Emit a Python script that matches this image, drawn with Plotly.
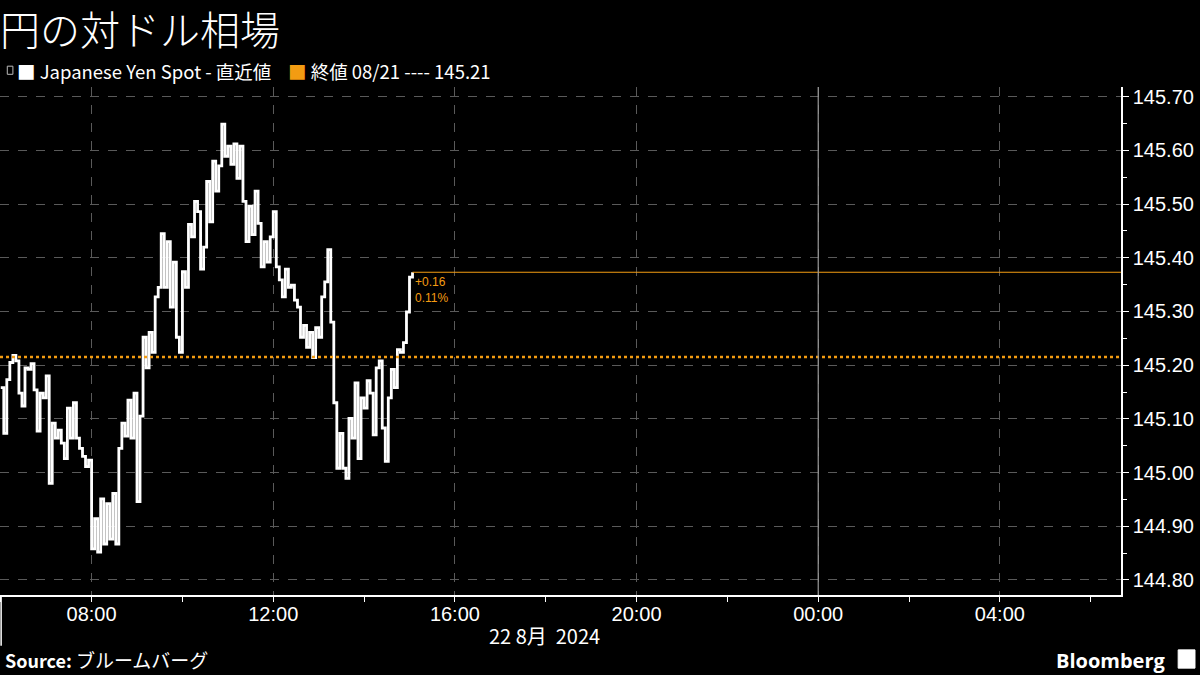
import pandas as pd
import plotly.graph_objects as go

# USD/JPY spot, 4-minute samples from 06:00 on 22 Aug 2024
start_time = "2024-08-22 06:00"
step_minutes = 4
prices = [
    145.158, 145.073, 145.173, 145.205, 145.218, 145.208, 145.148, 145.124, 145.195, 145.192,
    145.203, 145.154, 145.077, 145.148, 145.139, 145.180, 144.980, 145.092, 145.064, 145.079,
    145.055, 145.026, 145.120, 145.064, 145.130, 145.064, 145.045, 145.030, 145.011, 145.023,
    144.858, 144.914, 144.852, 144.951, 144.867, 144.942, 144.876, 144.961, 144.867, 145.045,
    145.092, 145.068, 145.135, 145.064, 145.148, 144.946, 145.105, 145.252, 145.195, 145.261,
    145.224, 145.327, 145.345, 145.445, 145.345, 145.430, 145.308, 145.392, 145.252, 145.224,
    145.374, 145.345, 145.462, 145.439, 145.505, 145.486, 145.379, 145.420, 145.542, 145.467,
    145.580, 145.524, 145.571, 145.649, 145.589, 145.608, 145.574, 145.612, 145.548, 145.608,
    145.505, 145.430, 145.496, 145.443, 145.524, 145.464, 145.383, 145.430, 145.392, 145.439,
    145.486, 145.383, 145.359, 145.327, 145.379, 145.345, 145.349, 145.321, 145.308, 145.252,
    145.274, 145.233, 145.261, 145.214, 145.270, 145.252, 145.327, 145.355, 145.415, 145.280,
    145.130, 145.008, 145.073, 145.008, 144.989, 145.101, 145.064, 145.167, 145.026, 145.139,
    145.120, 145.171, 145.148, 145.070, 145.195, 145.208, 145.083, 145.021, 145.139, 145.192,
    145.158, 145.229, 145.224, 145.242, 145.299, 145.364, 145.373,
]
prev_close = 145.215
prev_close_label = "145.21"

x_range = ["2024-08-22 05:59", "2024-08-23 06:40"]
tick_vals = ["2024-08-22 08:00", "2024-08-22 12:00", "2024-08-22 16:00",
             "2024-08-22 20:00", "2024-08-23 00:00", "2024-08-23 04:00"]
tick_text = ["08:00", "12:00", "16:00", "20:00", "00:00", "04:00"]
y_range = [144.772, 145.718]

ORANGE = "#f39c12"
GRID = "#5a5a5a"
FONT = "Liberation Sans"
JP_FONT = "Noto Sans CJK JP"

times = pd.date_range(start_time, periods=len(prices), freq=f"{step_minutes}min")
last_time = times[-1]
last_price = prices[-1]
change = last_price - prev_close
change_pct = change / prev_close * 100

fig = go.Figure()

fig.add_trace(
    go.Scatter(
        x=times,
        y=prices,
        mode="lines",
        line=dict(color="white", width=2.8, shape="hv"),
        showlegend=False,
        hoverinfo="skip",
    )
)

# previous close (dotted) and last price (solid)
fig.add_shape(type="line", xref="x", yref="y", x0=x_range[0], x1=x_range[1],
              y0=prev_close, y1=prev_close, line=dict(color=ORANGE, width=2.5, dash="dot"))
fig.add_shape(type="line", xref="x", yref="y", x0=last_time, x1=x_range[1],
              y0=last_price, y1=last_price, line=dict(color=ORANGE, width=1.2))

# day boundary
fig.add_shape(type="line", xref="x", yref="paper", x0="2024-08-23 00:00", x1="2024-08-23 00:00",
              y0=0, y1=1, line=dict(color="#9a9a9a", width=1.2))
# left date separator under the axis
fig.add_shape(type="line", xref="paper", yref="paper", x0=0.001, x1=0.001,
              y0=0, y1=-0.1, line=dict(color="white", width=1.5))

fig.add_annotation(x=last_time, y=last_price, xref="x", yref="y", xanchor="left", yanchor="top",
                   text=f"{change:+.2f}<br>{abs(change_pct):.2f}%", showarrow=False, align="left",
                   xshift=0, yshift=-1, font=dict(color=ORANGE, size=12, family=FONT))

# title, legend row, footer
fig.add_annotation(xref="paper", yref="paper", x=-0.002, y=1, yshift=90, xanchor="left", yanchor="top",
                   text="円の対ドル相場", showarrow=False,
                   font=dict(color="white", size=40, family=JP_FONT, weight=300))
fig.add_annotation(xref="paper", yref="paper", x=0.013, y=1, yshift=16, xanchor="left", yanchor="middle",
                   text="■ Japanese Yen Spot - 直近値", showarrow=False,
                   font=dict(color="white", size=18.5, family=JP_FONT))
fig.add_annotation(xref="paper", yref="paper", x=0.2555, y=1, yshift=16, xanchor="left", yanchor="middle",
                   text=f"<span style='color:{ORANGE}'>■</span> 終値 08/21 ---- {prev_close_label}",
                   showarrow=False, font=dict(color="white", size=18.5, family=JP_FONT))
fig.add_shape(type="rect", xref="paper", yref="paper", x0=0.0065, x1=0.0115, y0=1.025, y1=1.041,
              line=dict(color="#bbbbbb", width=1))
fig.add_annotation(xref="paper", yref="paper", x=0.486, y=0, yshift=-40, xanchor="center", yanchor="middle",
                   text="22 8月  2024", showarrow=False,
                   font=dict(color="white", size=20, family=JP_FONT))
fig.add_annotation(xref="paper", yref="paper", x=0.003, y=0, yshift=-64, xanchor="left", yanchor="middle",
                   text="<b>Source:</b> <span style='font-size:19px'>ブルームバーグ</span>", showarrow=False,
                   font=dict(color="white", size=18, family=JP_FONT))
fig.add_annotation(xref="paper", yref="paper", x=1, xshift=47, y=0, yshift=-65, xanchor="right", yanchor="middle",
                   text="<b>Bloomberg</b>", showarrow=False,
                   font=dict(color="white", size=20, family="Open Sans"))
fig.add_shape(type="rect", xref="paper", yref="paper", x0=1.051, x1=1.066, y0=-0.144, y1=-0.108,
              fillcolor="white", line=dict(color="white", width=1))

fig.update_layout(
    width=1200,
    height=675,
    paper_bgcolor="black",
    plot_bgcolor="black",
    margin=dict(l=0, r=79, t=87, b=80),
    showlegend=False,
    font=dict(family=FONT, color="white"),
)

fig.update_xaxes(
    type="date",
    range=x_range,
    tickvals=tick_vals,
    ticktext=tick_text,
    tickfont=dict(size=20, color="white", family=FONT),
    showgrid=True,
    gridcolor=GRID,
    griddash="dash",
    gridwidth=1,
    showline=True,
    linecolor="white",
    linewidth=1.5,
    ticks="",
    minor=dict(ticks="outside", dtick=2 * 3600 * 1000, tick0="2024-08-22 06:00",
               ticklen=5, tickcolor="white", showgrid=False),
    zeroline=False,
)

fig.update_yaxes(
    side="right",
    range=y_range,
    dtick=0.1,
    tick0=144.8,
    tickformat=".2f",
    tickfont=dict(size=20, color="white", family=FONT),
    showgrid=True,
    gridcolor=GRID,
    griddash="dash",
    gridwidth=1,
    showline=True,
    linecolor="white",
    linewidth=1.5,
    ticks="outside",
    ticklen=6,
    tickcolor="white",
    minor=dict(ticks="outside", dtick=0.05, ticklen=4, tickcolor="white", showgrid=False),
    zeroline=False,
)

fig.write_html(
    "out.html",
    config={"displayModeBar": False},
    post_script="document.body.style.margin='0';document.body.style.background='black';",
)
